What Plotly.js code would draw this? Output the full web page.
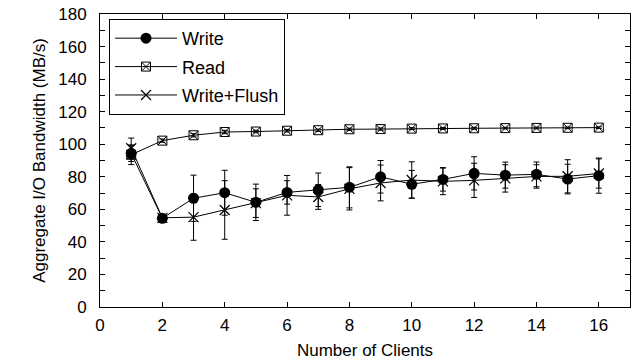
<!DOCTYPE html>
<html><head><meta charset="utf-8">
<script src="https://cdn.plot.ly/plotly-3.0.1.min.js"></script>
<style>html,body{margin:0;padding:0;background:#fff}</style>
</head><body><div id="chart" style="width:637px;height:364px"></div>
<script>
const clients = [1,2,3,4,5,6,7,8,9,10,11,12,13,14,15,16];
const writeVals = [94.4,54.5,66.8,70.2,64.3,70.4,72.0,73.5,80.0,75.4,78.4,82.1,81.0,81.5,78.6,80.7];
const writeErr  = [5,1,14.2,13.8,11.2,7.2,10.3,12.6,10.0,8.5,7.2,10.2,8.0,7.6,9.1,10.8];
const readVals  = [93.5,102.2,105.5,107.5,107.8,108.3,108.6,109.2,109.3,109.6,109.7,109.8,109.9,110.0,110.1,110.2];
const readErr   = [6,1,1,1,0.8,0.8,0.7,0.7,0.7,0.6,0.6,0.6,0.5,0.5,0.5,0.5];
const flushVals = [97.5,54.8,55.2,59.6,63.8,68.6,67.6,72.6,76.2,78.0,77.2,77.8,79.0,80.2,80.3,82.0];
const flushErr  = [6.3,1,14.2,18.0,8.8,12.2,7.6,13.0,11.0,11.2,8.2,10.5,8.4,7.2,10.2,9.0];
const names = ['Write','Read','Write+Flush'];

function errStyle(arr){
  return {type:'data', array:arr, visible:true, color:'#000', thickness:1, width:3};
}
const lineStyle = {color:'#000', width:1};
const traces = [
  {x:clients, y:writeVals, name:names[0], mode:'lines+markers', legendgroup:'a',
   line:lineStyle, marker:{symbol:'circle', size:11, color:'#000'}, error_y:errStyle(writeErr)},
  {x:clients, y:readVals, name:names[1], mode:'lines+markers', legendgroup:'b',
   line:lineStyle, marker:{symbol:'square-x-open', size:9, color:'#000', line:{width:1,color:'#000'}}, error_y:errStyle(readErr)},
  {x:clients, y:flushVals, name:names[2], mode:'lines+markers', legendgroup:'c',
   line:lineStyle, marker:{symbol:'x-thin-open', size:10, color:'#000', line:{width:1.2,color:'#000'}}, error_y:errStyle(flushErr)}
];
const fam = '"Liberation Sans", Arial, sans-serif';
const font = {family:fam, size:18, color:'#000'};
const layout = {
  width:637, height:364,
  margin:{l:100, r:7, t:14, b:57},
  paper_bgcolor:'#fff', plot_bgcolor:'#fff',
  font:font,
  showlegend:true,
  legend:{x:0.017, y:0.983, xanchor:'left', yanchor:'top', bgcolor:'#fff',
          bordercolor:'#000', borderwidth:1, tracegroupgap:2, font:{family:fam,size:18,color:'#000'},
          itemwidth:62, entrywidth:190},
  xaxis:{range:[0,17], dtick:2, tick0:0, showgrid:false, zeroline:false,
         showline:true, linecolor:'#000', linewidth:1, mirror:'ticks',
         ticks:'inside', ticklen:5, tickcolor:'#000', ticklabelstandoff:3,
         tickfont:{family:fam,size:17,color:'#000'},
         title:{text:'Number of Clients', font:{family:fam,size:17,color:'#000'}, standoff:9}},
  yaxis:{range:[0,180], dtick:20, tick0:0, showgrid:false, zeroline:false,
         showline:true, linecolor:'#000', linewidth:1, mirror:'ticks',
         ticks:'inside', ticklen:5, tickcolor:'#000', ticklabelstandoff:9,
         minor:{dtick:10, ticks:'inside', ticklen:5, tickcolor:'#000', showgrid:false},
         tickfont:{family:fam,size:17,color:'#000'},
         title:{text:'Aggregate I/O Bandwidth (MB/s)', font:{family:fam,size:17,color:'#000'}, standoff:8}}
};
Plotly.newPlot('chart', traces, layout, {staticPlot:true, displayModeBar:false});
</script></body></html>
